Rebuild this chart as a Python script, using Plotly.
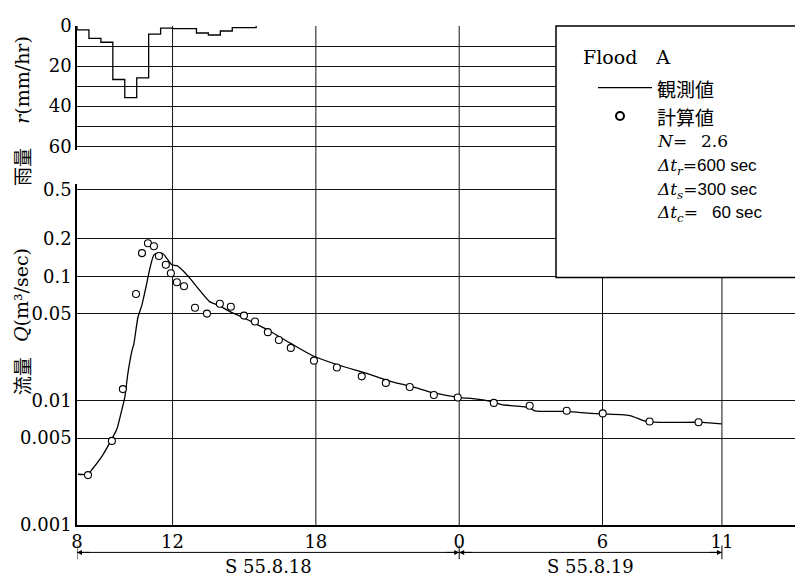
import plotly.graph_objects as go

# ---------------- data (hours from 0:00 on S55.8.18; 24 = 0:00 on 8.19) -------------
rain_t = [8.0, 8.5, 9.0, 9.5, 10.0, 10.5, 11.0, 11.5, 12.0, 12.5, 13.0, 13.5, 14.0, 14.5, 15.0, 15.5]
rain_r = [1.9, 6.2, 8.1, 26.7, 35.7, 25.9, 4.1, 1.1, 1.3, 1.3, 3.5, 4.5, 2.5, 0.8, 0.8]

obs_t = [8.04, 8.46, 8.67, 9.09, 9.46, 9.67, 9.88, 10.01, 10.13, 10.30, 10.38, 10.55, 10.72,
         10.93, 11.05, 11.22, 11.39, 11.60, 11.77, 11.97, 12.18, 12.44, 12.73, 13.06, 13.44,
         13.56, 13.98, 14.40, 14.95, 15.53, 16.08, 16.91, 17.87, 19.00, 20.13, 20.97, 22.06,
         22.90, 24.03, 24.57, 25.41, 25.78, 26.95, 27.16, 28.50, 29.55, 31.14, 31.85, 32.94,
         34.19, 34.99]
obs_q = [0.00256, 0.00256, 0.00286, 0.00369, 0.00493, 0.00591, 0.00849, 0.0109, 0.0166,
         0.0252, 0.0286, 0.0467, 0.0591, 0.0897, 0.1156, 0.149, 0.154, 0.152, 0.139, 0.124,
         0.122, 0.111, 0.0964, 0.0805, 0.0659, 0.0624, 0.0580, 0.0521, 0.0467, 0.0411, 0.0362,
         0.0292, 0.0230, 0.0192, 0.0166, 0.0146, 0.0129, 0.0116, 0.0106, 0.0104, 0.0098,
         0.0093, 0.0088, 0.0083, 0.0082, 0.0079, 0.0076, 0.0068, 0.0067, 0.0067, 0.0065]

calc_t = [8.46, 9.46, 9.92, 10.47, 10.72, 10.97, 11.22, 11.43, 11.72, 11.93, 12.18, 12.48,
          12.94, 13.44, 13.98, 14.44, 14.99, 15.45, 15.99, 16.45, 16.95, 17.92, 18.88, 19.92,
          20.93, 21.93, 22.94, 23.94, 25.45, 26.95, 28.50, 30.01, 31.97, 34.02]
calc_q = [0.00252, 0.00475, 0.0124, 0.0721, 0.154, 0.185, 0.175, 0.146, 0.124, 0.106, 0.0897,
          0.0834, 0.0560, 0.0502, 0.0602, 0.0570, 0.0484, 0.0434, 0.0356, 0.0308, 0.0266,
          0.0210, 0.0185, 0.0157, 0.0139, 0.0129, 0.0111, 0.0106, 0.0096, 0.0091, 0.0083,
          0.0079, 0.0068, 0.0067]

x_tickvals = [8, 12, 18, 24, 30, 35]
x_ticktext = ["8", "12", "18", "0", "6", "11"]
q_tickvals = [0.001, 0.005, 0.01, 0.05, 0.1, 0.2, 0.5]
q_ticktext = ["0.001", "0.005", "0.01", "0.05", "0.1", "0.2", "0.5"]
r_tickvals = [0, 20, 40, 60]
r_minorvals = [10, 30, 50]
vgrid = [12, 18, 24, 30, 35]
date_labels = ["S 55.8.18", "S 55.8.19"]
date_spans = [(8, 24), (24, 35)]

# ---------------- layout helpers (screen pixel -> paper) ----------------
W, H = 803, 576
OFF = 8                      # page body margin
PW, PH = 719, 510
ML, MT = 77 - OFF, 15 - OFF
MR = W - ML - PW
MB = H - MT - PH


def px(x):
    return (x - OFF - ML) / PW


def py(y):
    return (MT + PH - (y - OFF)) / PH


SERIF = "DejaVu Serif"
CJK = "Noto Sans CJK JP"
GRID = "#111"

fig = go.Figure()

# rainfall hyetograph (step line)
fig.add_trace(go.Scatter(
    x=[rain_t[0]] + rain_t, y=[0] + rain_r + [0],
    mode="lines", line=dict(color="black", width=1.3, shape="hv"),
    xaxis="x", yaxis="y2", showlegend=False, hoverinfo="skip"))

# observed discharge
fig.add_trace(go.Scatter(
    x=obs_t, y=obs_q, mode="lines",
    line=dict(color="black", width=1.3, shape="spline", smoothing=0.6),
    xaxis="x", yaxis="y", showlegend=False, name="観測値"))

# computed discharge
fig.add_trace(go.Scatter(
    x=calc_t, y=calc_q, mode="markers",
    marker=dict(symbol="circle", size=7, color="white", line=dict(color="black", width=1.1)),
    xaxis="x", yaxis="y", showlegend=False, name="計算値"))

shapes = []
for v in vgrid:
    shapes.append(dict(type="line", xref="x", yref="paper", x0=v, x1=v, y0=0, y1=1,
                       line=dict(color=GRID, width=1), layer="below"))
shapes.append(dict(type="line", xref="paper", yref="paper", x0=1, x1=1, y0=0, y1=py(272),
                   line=dict(color="black", width=1.5)))
shapes.append(dict(type="rect", xref="paper", yref="paper", x0=px(556), x1=1, y0=py(272), y1=1,
                   fillcolor="white", line=dict(color="black", width=1.5), layer="above"))
shapes.append(dict(type="line", xref="paper", yref="paper", x0=px(598), x1=px(652),
                   y0=py(78), y1=py(78), line=dict(color="black", width=1.3), layer="above"))
shapes.append(dict(type="circle", xref="paper", yref="paper", xsizemode="pixel", ysizemode="pixel",
                   xanchor=px(620), yanchor=py(107), x0=-4, x1=4, y0=-4, y1=4,
                   fillcolor="white", line=dict(color="black", width=2), layer="above"))
ya = py(553)
shapes.append(dict(type="line", xref="x", yref="paper", x0=date_spans[0][0], x1=date_spans[-1][1],
                   y0=ya, y1=ya, line=dict(color="black", width=1)))
for v in [8, 24, 35]:
    shapes.append(dict(type="line", xref="x", yref="paper", x0=v, x1=v, y0=py(546), y1=py(560),
                       line=dict(color="black", width=1)))

annotations = []
for (a, b), lab in zip(date_spans, date_labels):
    for xv, off in [(a, 14), (b, -14)]:
        annotations.append(dict(x=xv, y=ya, xref="x", yref="paper", ax=off, ay=0, text="",
                                showarrow=True, arrowhead=2, arrowsize=1, arrowwidth=1,
                                arrowcolor="black", standoff=0))
    annotations.append(dict(x=(a + b) / 2, y=py(567), xref="x", yref="paper", text=lab,
                            xanchor="center", yanchor="middle", showarrow=False,
                            font=dict(family=SERIF, size=18, color="black")))


def vtext(text, x, y, fam, size):
    annotations.append(dict(x=px(x), y=py(y), xref="paper", yref="paper", textangle=-90,
                            text=text, showarrow=False, xanchor="center", yanchor="middle",
                            font=dict(family=fam, size=size, color="black")))


vtext("<i>r</i>(mm/hr)", 22, 70, SERIF, 19)
vtext("雨量", 22, 159, CJK, 19)
vtext("<i>Q</i>(m³/sec)", 21, 290, SERIF, 19)
vtext("流量", 21, 373, CJK, 19)


def leg(text, x, y, fam, size):
    annotations.append(dict(x=px(x), y=py(y), xref="paper", yref="paper", text=text,
                            xanchor="left", yanchor="middle", showarrow=False,
                            font=dict(family=fam, size=size, color="black")))


leg("Flood\u2003A", 581, 47, SERIF, 19)
leg("観測値", 655, 79, CJK, 19)
leg("計算値", 655, 108, CJK, 19)
leg("<i>N</i>=\u2002 2.6", 655, 133, SERIF, 17)
leg("<i>Δt<sub>r</sub></i>=<span style='font-family:Liberation Sans'>600 sec</span>", 655, 159, SERIF, 17)
leg("<i>Δt<sub>s</sub></i>=<span style='font-family:Liberation Sans'>300 sec</span>", 655, 183, SERIF, 17)
leg("<i>Δt<sub>c</sub></i>=\u2002 <span style='font-family:Liberation Sans'>60 sec</span>", 655, 207, SERIF, 17)

tickfont = dict(family=SERIF, size=18, color="black")

fig.update_layout(
    width=W, height=H,
    margin=dict(l=ML, r=MR, t=MT, b=MB),
    paper_bgcolor="white", plot_bgcolor="white",
    showlegend=False,
    xaxis=dict(domain=[0, 1], anchor="y", range=[8, 38.1], tickvals=x_tickvals,
               ticktext=x_ticktext, ticks="", showgrid=False, zeroline=False,
               showline=True, linecolor="black", linewidth=1.5, tickfont=tickfont),
    yaxis=dict(domain=[0, 0.684], anchor="x", type="log", range=[-3, -0.254],
               tickvals=q_tickvals, ticktext=q_ticktext, ticks="", showgrid=True,
               gridcolor=GRID, gridwidth=1, zeroline=False, showline=True,
               linecolor="black", linewidth=1.5, tickfont=tickfont),
    yaxis2=dict(domain=[0.751, 1], anchor="x", range=[62, 0], tickvals=r_tickvals,
                ticks="", showgrid=True, gridcolor=GRID, gridwidth=1,
                minor=dict(tickvals=r_minorvals, showgrid=True, gridcolor=GRID, gridwidth=1,
                           ticks=""),
                zeroline=False, showline=True, linecolor="black", linewidth=1.5,
                tickfont=tickfont),
    shapes=shapes,
    annotations=annotations,
)

fig.write_html("out.html")
